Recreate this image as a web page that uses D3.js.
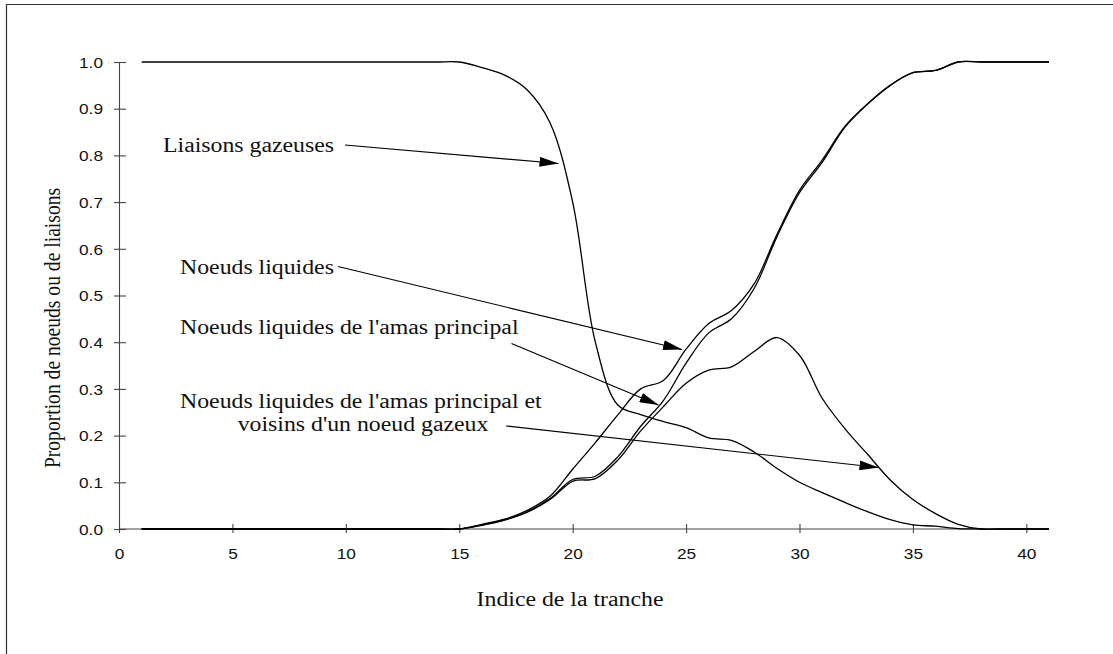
<!DOCTYPE html>
<html><head><meta charset="utf-8">
<script src="https://cdn.jsdelivr.net/npm/d3@7"></script>
<style>
html,body{margin:0;padding:0;background:#fff;}
svg{display:block;}
</style></head>
<body>
<svg id="chart" width="1113" height="654"></svg>
<script>
// ---- data ----
const slices = d3.range(1, 42); // 1..41
const gasBonds = [1,1,1,1,1,1,1,1,1,1,1,1,1,1,1,
  0.988,0.972,0.94,0.87,0.70,0.40,0.265,0.245,0.23,0.217,0.195,0.19,0.165,0.13,0.10,
  0.078,0.057,0.037,0.02,0.009,0.006,0.001,0,0,0,0];
const liquidNodes = [0,0,0,0,0,0,0,0,0,0,0,0,0,0,0,
  0.01,0.021,0.04,0.07,0.128,0.185,0.245,0.30,0.318,0.385,0.44,0.468,0.525,0.63,0.725,
  0.79,0.862,0.91,0.95,0.977,0.982,1,1,1,1,1];
const mainClusterNodes = [0,0,0,0,0,0,0,0,0,0,0,0,0,0,0,
  0.009,0.02,0.037,0.065,0.106,0.113,0.155,0.22,0.275,0.355,0.42,0.45,0.515,0.625,0.72,
  0.785,0.86,0.91,0.95,0.977,0.982,1,1,1,1,1];
const borderNodes = [0,0,0,0,0,0,0,0,0,0,0,0,0,0,0,
  0.008,0.019,0.036,0.063,0.102,0.108,0.148,0.21,0.262,0.312,0.34,0.347,0.38,0.41,0.372,
  0.28,0.215,0.16,0.105,0.063,0.033,0.01,0,0,0,0];
const xTicks = [0,5,10,15,20,25,30,35,40];
const yTicks = [0,0.1,0.2,0.3,0.4,0.5,0.6,0.7,0.8,0.9,1.0];
const xTitle = "Indice de la tranche";
const yTitle = "Proportion de noeuds ou de liaisons";
const annotations = [
  {lines:["Liaisons gazeuses"], s:17.5, v:0.88},
  {lines:["Noeuds liquides"], s:24.85, v:0.385},
  {lines:["Noeuds liquides de l'amas principal"], s:23.8, v:0.265},
  {lines:["Noeuds liquides de l'amas principal et","voisins d'un noeud gazeux"], s:33.5, v:0.13}
];

// ---- layout ----
const SX = 1.19; // horizontal stretch of the text in the reference
const svg = d3.select("#chart");
const x = d3.scaleLinear().domain([0, 41]).range([119, 1049]);
const y = d3.scaleLinear().domain([0, 1]).range([529, 62]);

// frame (left/top visible)
svg.append("path").attr("d","M6.5,654V4.5H1113").attr("fill","none").attr("stroke","#333").attr("stroke-width",1.2);

// axes
const gx = svg.append("g").attr("transform",`translate(0,${y(0)})`)
  .call(d3.axisBottom(x).tickValues(xTicks).tickSizeOuter(0).tickSize(4).tickFormat(d3.format("d")));
const gy = svg.append("g").attr("transform",`translate(${x(0)},0)`)
  .call(d3.axisLeft(y).tickValues(yTicks).tickSizeOuter(0).tickSize(5).tickFormat(d3.format(".1f")));
[gx, gy].forEach(g=>{
  g.select(".domain").attr("stroke","#444").attr("stroke-width",1.1);
  g.selectAll(".tick line").attr("stroke","#444").attr("stroke-width",1.1);
  g.selectAll(".tick text").attr("font-family","'Liberation Sans', Arial, sans-serif")
    .attr("font-size",14.5).attr("fill","#111");
});
gx.select(".domain").attr("d", `M${x(0)},0H${x(41)}`);
gx.selectAll(".tick line").attr("y1",-5).attr("y2",4);
gx.selectAll(".tick text").attr("y",0).attr("dy",0).attr("transform","translate(0,30) scale("+SX+",1)");
gy.selectAll(".tick line").attr("x1",-5).attr("x2",7);
gy.selectAll(".tick text").attr("x",0).attr("dy","0.36em").attr("transform","translate(-16,0) scale("+SX+",1)");

// series
const line = d3.line().x((d,i)=>x(slices[i])).y(d=>y(d)).curve(d3.curveCatmullRom.alpha(0.5));
[gasBonds, liquidNodes, mainClusterNodes, borderNodes].forEach(s=>{
  svg.append("path").attr("d", line(s)).attr("fill","none").attr("stroke","#000").attr("stroke-width",1.3);
});

// titles
const serif = "'Liberation Serif','Times New Roman',serif";
svg.append("text").text(xTitle).attr("font-family",serif).attr("font-size",20).attr("text-anchor","middle")
  .attr("transform",`translate(570,606) scale(${SX},1)`).attr("fill","#111");
svg.append("text").text(yTitle).attr("font-family",serif).attr("font-size",19.6).attr("text-anchor","middle")
  .attr("transform",`translate(60,328) scale(${SX},1) rotate(-90)`).attr("fill","#111");

// annotations with arrows
svg.append("defs").append("marker").attr("id","ah").attr("markerUnits","userSpaceOnUse")
  .attr("markerWidth",20).attr("markerHeight",10).attr("refX",19).attr("refY",5).attr("orient","auto")
  .append("path").attr("d","M0,0L19,5L0,10Z").attr("fill","#000");
const annPos = [
  {tx:163, ty:152, anchor:"start", from:[345,145], to:[558.5,163.5]},
  {tx:180, ty:274, anchor:"start", from:[338,266.5], to:[682,349.5]},
  {tx:180, ty:334, anchor:"start", from:[511.5,343.5], to:[658.5,405]},
  {tx:180, ty:407.5, anchor:"start", tx2:363, ty2:430.5, from:[506,426], to:[878.5,467.5]}
];
annotations.forEach((a,i)=>{
  const p = annPos[i];
  a.lines.forEach((t,j)=>{
    const tx = j===0 ? p.tx : p.tx2, ty = j===0 ? p.ty : p.ty2;
    svg.append("text").text(t).attr("font-family",serif).attr("font-size",20)
      .attr("text-anchor", j===0 ? p.anchor : "middle")
      .attr("transform",`translate(${tx},${ty}) scale(${SX},1)`).attr("fill","#111");
  });
  svg.append("line").attr("x1",p.from[0]).attr("y1",p.from[1]).attr("x2",p.to[0]).attr("y2",p.to[1])
    .attr("stroke","#000").attr("stroke-width",1.2).attr("marker-end","url(#ah)");
});
</script>
</body></html>
